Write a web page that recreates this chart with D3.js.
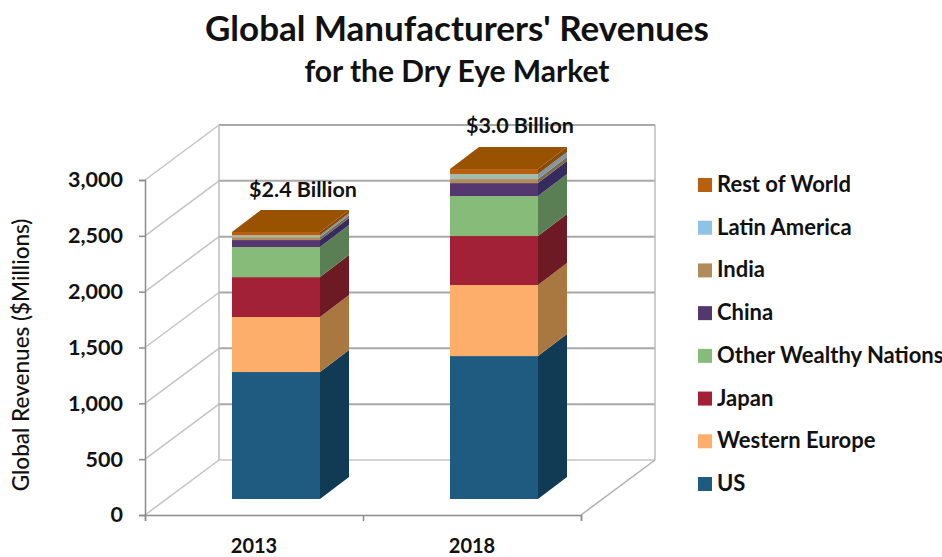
<!DOCTYPE html>
<html><head><meta charset="utf-8">
<script src="https://d3js.org/d3.v7.min.js"></script>
<style>html,body{margin:0;background:#fff}svg{display:block}text{font-family:Lato,"Open Sans",sans-serif;font-weight:700;fill:#111}</style>
</head><body><svg id="c" width="942" height="557"></svg>
<script>
const years = ["2013","2018"];
const seriesNames = ["US","Western Europe","Japan","Other Wealthy Nations","China","India","Latin America","Rest of World"];
const values2013 = [1137,492,358,269,63,25,18,30];
const values2018 = [1280,636,439,358,116,36,45,45];
const totalLabels = ["$2.4 Billion","$3.0 Billion"];
const yTicks = [0,500,1000,1500,2000,2500,3000];
const frontColors = ["#1f5a80","#fdae6b","#a32136","#86bb7a","#55376f","#b18c5b","#a3bcae","#b85f10"];
const sideColors  = ["#113a55","#a87840","#6e1a24","#5a7f55","#362a5e","#7d6a4a","#7f97a6","#8a4a06"];
const legendColors = ["#1f5a80","#fdae6b","#a32136","#86bb7a","#55376f","#b18c5b","#8fc3e5","#b85f10"];
const topColor = "#995200";

const svg = d3.select("#c");
const yFront = d3.scaleLinear().domain([0,3000]).range([515,180]);
const yBack  = d3.scaleLinear().domain([0,3000]).range([460,125]);
const yBar   = d3.scaleLinear().domain([0,3000]).range([499,164]);
const x = d3.scaleBand().domain(years).range([145,581]).paddingInner(130/218).paddingOuter(65/218);
const wallDx = 74, wallDy = 55, barShift = 22, barDx = 29, barDy = 22;

// walls
const grid = svg.append("g").attr("fill","none");
yTicks.forEach(t=>{
  grid.append("line").attr("x1",145).attr("y1",yFront(t)).attr("x2",145+wallDx).attr("y2",yBack(t))
    .attr("stroke","#c4c4c4").attr("stroke-width",1.5);
  if(t>0) grid.append("line").attr("x1",145+wallDx).attr("y1",yBack(t)).attr("x2",581+wallDx).attr("y2",yBack(t))
    .attr("stroke","#a8a8a8").attr("stroke-width",2);
});
grid.append("line").attr("x1",219).attr("y1",yBack(0)).attr("x2",655).attr("y2",yBack(0)).attr("stroke","#c4c4c4").attr("stroke-width",1.5);
grid.append("line").attr("x1",219).attr("y1",yBack(0)).attr("x2",219).attr("y2",yBack(3000)).attr("stroke","#bdbdbd").attr("stroke-width",1.5);
grid.append("line").attr("x1",655).attr("y1",yBack(0)).attr("x2",655).attr("y2",yBack(3000)).attr("stroke","#bdbdbd").attr("stroke-width",1.5);
grid.append("line").attr("x1",581).attr("y1",yFront(0)).attr("x2",655).attr("y2",yBack(0)).attr("stroke","#b0b0b0").attr("stroke-width",1.5);

// axes
const axL = svg.append("g").attr("transform","translate(145,0)")
  .call(d3.axisLeft(yFront).tickValues(yTicks).tickFormat(d3.format(",")).tickSize(6).tickPadding(16));
axL.selectAll("text").style("font-size","21.5px").attr("fill","#111");
const tickX = d3.scaleLinear().domain([0,2]).range([145,581]);
const axB = svg.append("g").attr("transform","translate(0,515)")
  .call(d3.axisBottom(tickX).tickValues([0,1,2]).tickFormat("").tickSize(6));
svg.selectAll(".domain,.tick line").attr("stroke","#8c8c8c").attr("stroke-width",1.5);

years.forEach(y=>{
  svg.append("text").attr("x",x(y)+x.bandwidth()/2).attr("y",553).attr("text-anchor","middle")
    .style("font-size","20px").text(y);
});

// bars
[values2013,values2018].forEach((vals,i)=>{
  const g = svg.append("g");
  const x0 = x(years[i])+barShift, x1 = x0+x.bandwidth();
  let acc = 0;
  vals.forEach((v,k)=>{
    const yb = yBar(acc), yt = yBar(acc+v);
    g.append("polygon").attr("fill",sideColors[k])
      .attr("points",[[x1,yb],[x1+barDx,yb-barDy],[x1+barDx,yt-barDy],[x1,yt]].join(" "));
    g.append("rect").attr("x",x0).attr("y",yt).attr("width",x1-x0).attr("height",yb-yt).attr("fill",frontColors[k]);
    acc += v;
  });
  const yt = yBar(acc);
  g.append("polygon").attr("fill",topColor)
    .attr("points",[[x0,yt],[x1,yt],[x1+barDx,yt-barDy],[x0+barDx,yt-barDy]].join(" "));
});

// total labels
const labelX = [303,520], labelY = [197,133];
totalLabels.forEach((t,i)=>{
  svg.append("text").attr("x",labelX[i]).attr("y",labelY[i]).attr("text-anchor","middle")
    .style("font-size","21.5px").text(t);
});

// titles
svg.append("text").attr("x",457).attr("y",41).attr("text-anchor","middle").style("font-size","35px").text("Global Manufacturers' Revenues");
svg.append("text").attr("x",457).attr("y",82).attr("text-anchor","middle").style("font-size","30px").text("for the Dry Eye Market");

// y title
svg.append("text").attr("transform","translate(29,355) rotate(-90)").attr("text-anchor","middle")
  .style("font-size","22.5px").style("font-weight",500).text("Global Revenues ($Millions)");

// legend
const legY = d3.scalePoint().domain(seriesNames).range([484,185]);
seriesNames.forEach((n,k)=>{
  svg.append("rect").attr("x",698).attr("y",legY(n)-7).attr("width",14).attr("height",14).attr("fill",legendColors[k]);
  svg.append("text").attr("x",717).attr("y",legY(n)+7).style("font-size","22px").text(n);
});
</script></body></html>
